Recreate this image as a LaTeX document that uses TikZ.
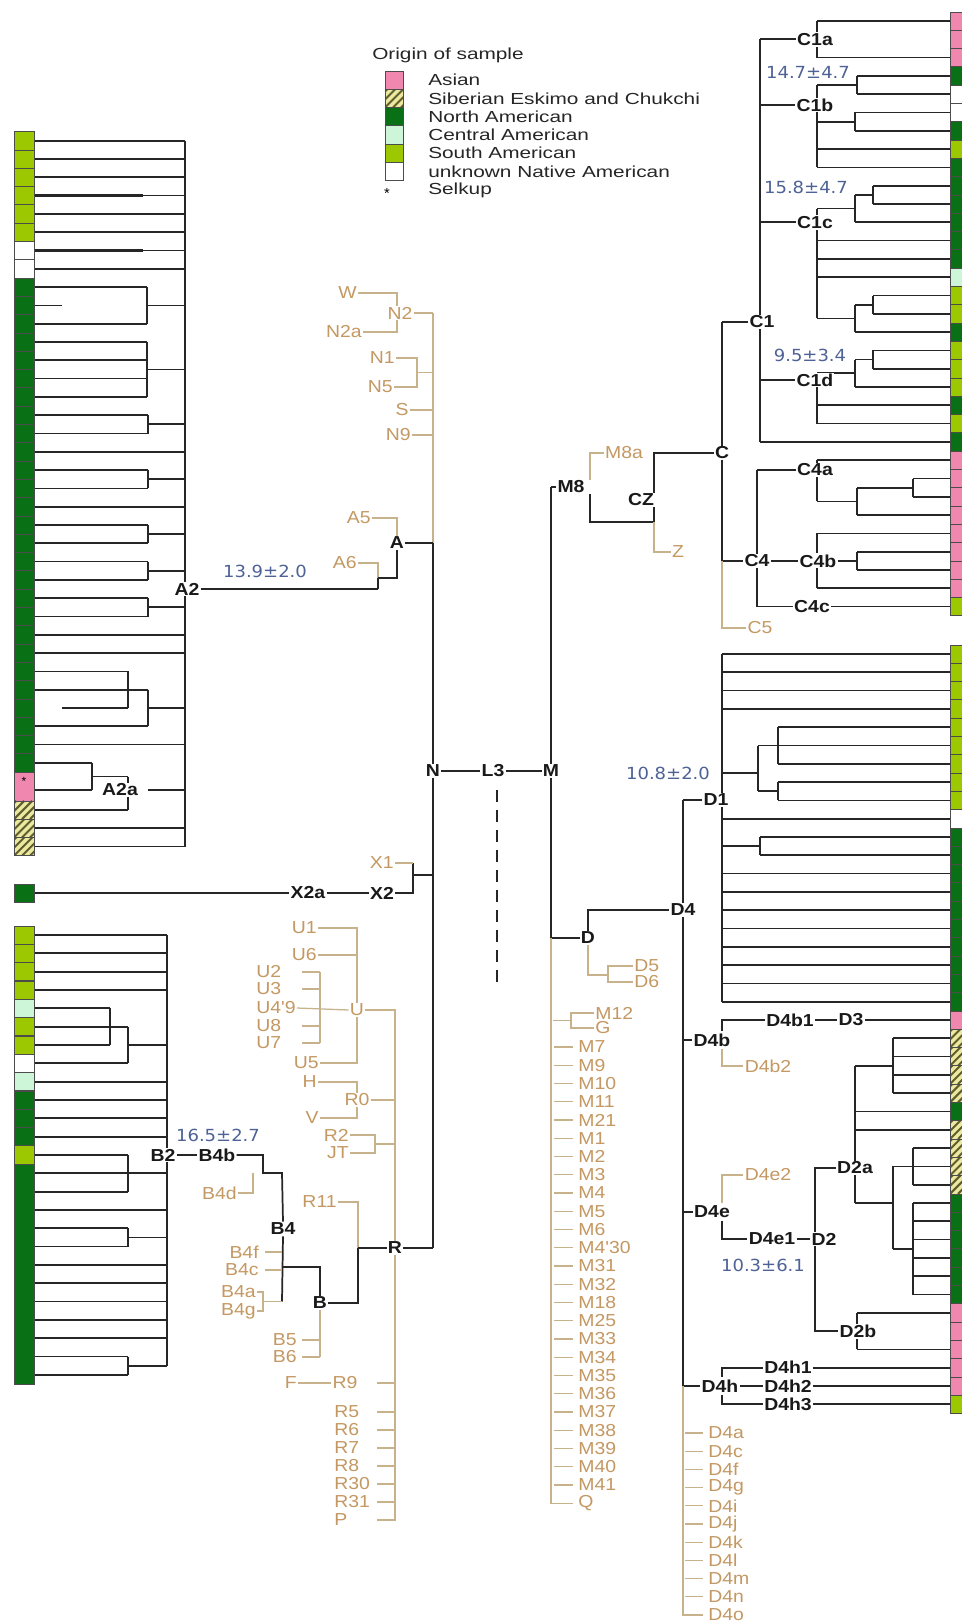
\documentclass[tikz,border=0pt]{standalone}
\usepackage{fontspec}
\setmainfont{Liberation Sans}
\newfontfamily\lab[FakeStretch=1.12]{Liberation Sans}
\newfontfamily\legf[FakeStretch=1.3]{Liberation Sans}
\newfontfamily\numf[FakeStretch=1.08]{DejaVu Sans}
\usetikzlibrary{backgrounds}
\definecolor{asian}{RGB}{240,135,175}
\definecolor{nam}{RGB}{10,112,22}
\definecolor{cam}{RGB}{205,245,215}
\definecolor{sam}{RGB}{155,200,0}
\definecolor{hbg}{RGB}{236,232,160}
\definecolor{hln}{RGB}{95,95,45}
\definecolor{tanT}{RGB}{196,152,98}
\definecolor{tanL}{RGB}{200,178,140}
\definecolor{numc}{RGB}{78,98,150}
\newcommand{\rowA}[1]{(140.7+18.3*(#1))}
\newcommand{\rowB}[1]{(935+18.33*(#1))}
\newcommand{\rowC}[1]{(21+18.3*(#1))}
\newcommand{\rowD}[1]{(654+18.3*(#1))}
\newcommand{\HL}[4][br]{\draw[#1] (#2,{#4}) -- (#3,{#4});}
\newcommand{\VL}[4][br]{\draw[#1] (#2,{#3}) -- (#2,{#4});}
\newcommand{\CB}[4]{\filldraw[fill=#4,draw=black!70,line width=0.5pt] (#1,{#2-9.15}) rectangle (#3,{#2+9.15});}
\newcommand{\HB}[3]{%
 \begin{scope}
  \clip (#1,{#2-9.15}) rectangle (#3,{#2+9.15});
  \fill[hbg] (#1,{#2-9.15}) rectangle (#3,{#2+9.15});
  \foreach \hh in {-16,-8,0,8,16,24} {\draw[hln,line width=1.5pt] ({#1+\hh},{#2+9.15}) -- ({#1+\hh+18.3},{#2-9.15});}
 \end{scope}
 \draw[black!70,line width=0.5pt] (#1,{#2-9.15}) rectangle (#3,{#2+9.15});}
\newcommand{\TRI}[1]{%
 \VL{873}{\rowC{#1}}{\rowC{#1+1}} \HL{873}{950}{\rowC{#1}} \HL{873}{950}{\rowC{#1+1}}
 \HL{855}{873}{\rowC{#1+0.5}} \VL{855}{\rowC{#1+0.5}}{\rowC{#1+2}} \HL{855}{950}{\rowC{#1+2}}
 \HL{817}{855}{\rowC{#1+1.25}}}
\begin{document}
\begin{tikzpicture}[x=0.75pt,y=-0.75pt,
  br/.style={black!85,line width=1.3pt},
  bt/.style={black!85,line width=1.8pt},
  tn/.style={tanL,line width=0.95pt},
  bl/.style={font=\lab\bfseries\fontsize{13}{13}\selectfont,inner sep=0.8pt,fill=white,text=black!90},
  tl/.style={font=\lab\fontsize{13}{13}\selectfont,inner sep=0.8pt,text=tanT},
  nl/.style={font=\numf\fontsize{12.5}{12.5}\selectfont,inner sep=0pt,text=numc},
  lg/.style={font=\legf\fontsize{12}{12}\selectfont,inner sep=0pt,anchor=west,text=black!85}]
\useasboundingbox (0,0) rectangle (961,1623);
% ---------------- legend
\node[lg] (lgh) at (372,55) {Origin of sample};
\CB{385}{80}{403}{asian}
\HB{385}{98.3}{403}
\CB{385}{116.6}{403}{nam}
\CB{385}{134.9}{403}{cam}
\CB{385}{153.2}{403}{sam}
\CB{385}{171.5}{403}{white}
\node[lg] (lg1) at (428,80) {Asian};
\node[lg] (lg2) at (428,98.3) {Siberian Eskimo and Chukchi};
\node[lg] (lg3) at (428,116.6) {North American};
\node[lg] (lg4) at (428,134.9) {Central American};
\node[lg] (lg5) at (428,153.2) {South American};
\node[lg] (lg6) at (428,171.5) {unknown Native American};
\node[lg] (lg7) at (428,190) {Selkup};
\node[font=\fontsize{11}{11}\selectfont,inner sep=0pt] (lgs) at (387,193) {*};
% ---------------- left columns
\foreach \kk in {0,...,5} {\CB{14}{\rowA{\kk}}{34}{sam}}
\foreach \kk in {6,7} {\CB{14}{\rowA{\kk}}{34}{white}}
\foreach \kk in {8,...,34} {\CB{14}{\rowA{\kk}}{34}{nam}}
\filldraw[fill=asian,draw=black!70,line width=0.5pt] (14,772) rectangle (34,801);
\node[inner sep=0pt,font=\fontsize{9}{9}\selectfont] (selk) at (24,781) {*};
\HB{14}{810}{34}
\HB{14}{828.3}{34}
\HB{14}{846.6}{34}
\CB{14}{893}{34}{nam}
\foreach \kk/\colr in {0/sam,1/sam,2/sam,3/sam,4/cam,5/sam,6/sam,7/white,8/cam,9/nam,10/nam,11/nam,12/sam} {\CB{14}{\rowB{\kk}}{34}{\colr}}
\filldraw[fill=nam,draw=black!70,line width=0.5pt] (14,{\rowB{13}-9.165}) rectangle (34,{\rowB{24}+9.165});
% ---------------- right columns
\foreach \kk/\colr in {0/asian,1/asian,2/asian,3/nam,4/white,5/white,6/nam,7/sam,8/nam,9/nam,10/nam,11/nam,12/nam,13/nam,14/cam,15/sam,16/sam,17/nam,18/sam,19/sam,20/sam,21/nam,22/sam,23/nam,24/asian,25/asian,26/asian,27/asian,28/asian,29/asian,30/asian,31/asian,32/sam} {\CB{950}{\rowC{\kk}}{972}{\colr}}
\foreach \kk/\colr in {0/sam,1/sam,2/sam,3/sam,4/sam,5/sam,6/sam,7/sam,8/sam,9/white,10/nam,11/nam,12/nam,13/nam,14/nam,15/nam,16/nam,17/nam,18/nam,19/nam,20/asian,25/nam,30/nam,31/nam,32/nam,33/nam,34/nam,35/nam,36/asian,37/asian,38/asian,39/asian,40/asian,41/sam} {\CB{950}{\rowD{\kk}}{972}{\colr}}
\foreach \kk in {21,22,23,24,26,27,28,29} {\HB{950}{\rowD{\kk}}{972}}
% ---------------- black labels
\node[bl] (A2) at (187,589) {A2};
\node[bl] (A2a) at (120,790) {A2a};
\node[bl] (A) at (397,543) {A};
\node[bl] (N) at (433,771) {N};
\node[bl] (L3) at (493,771) {L3};
\node[bl] (M) at (551,771) {M};
\node[bl] (X2) at (382,893) {X2};
\node[bl] (X2a) at (308,893) {X2a};
\node[bl] (R) at (395,1248) {R};
\node[bl] (B) at (320,1303) {B};
\node[bl] (B4) at (283,1229) {B4};
\node[bl] (B2) at (163,1155) {B2};
\node[bl] (B4b) at (217,1155) {B4b};
\node[bl] (M8) at (571,487) {M8};
\node[bl] (CZ) at (641,500) {CZ};
\node[bl] (C) at (722,453) {C};
\node[bl] (C1) at (762,322) {C1};
\node[bl] (C1a) at (815,{\rowC{1}}) {C1a};
\node[bl] (C1b) at (815,105) {C1b};
\node[bl] (C1c) at (815,{\rowC{11}}) {C1c};
\node[bl] (C1d) at (815,380) {C1d};
\node[bl] (C4a) at (815,470) {C4a};
\node[bl] (C4) at (757,{\rowC{29.5}}) {C4};
\node[bl] (C4b) at (818,{\rowC{29.5}}) {C4b};
\node[bl] (C4c) at (812,{\rowC{32}}) {C4c};
\node[bl] (D) at (588,938) {D};
\node[bl] (D4) at (683,910) {D4};
\node[bl] (D1) at (716,800) {D1};
\node[bl] (D4b) at (712,1040) {D4b};
\node[bl] (D4b1) at (790,{\rowD{20}}) {D4b1};
\node[bl] (D3) at (851,{\rowD{20}}) {D3};
\node[bl] (D4e) at (712,1212) {D4e};
\node[bl] (D4e1) at (772,1239) {D4e1};
\node[bl] (D2) at (824,1239) {D2};
\node[bl] (D2a) at (855,1168) {D2a};
\node[bl] (D2b) at (858,{\rowD{37}}) {D2b};
\node[bl] (D4h) at (720,{\rowD{40}}) {D4h};
\node[bl] (D4h1) at (788,{\rowD{39}}) {D4h1};
\node[bl] (D4h2) at (788,{\rowD{40}}) {D4h2};
\node[bl] (D4h3) at (788,{\rowD{41}}) {D4h3};
% ---------------- tan labels
\node[tl,anchor=east] (W) at (358,293) {W};
\node[tl,fill=white] (N2) at (400,313) {N2};
\node[tl,anchor=east] (N2a) at (363,332) {N2a};
\node[tl,anchor=east] (N1) at (396,358) {N1};
\node[tl,anchor=east] (N5) at (394,387) {N5};
\node[tl,anchor=east] (S) at (410,410) {S};
\node[tl,anchor=east] (N9) at (412,435) {N9};
\node[tl,anchor=east] (A5) at (372,518) {A5};
\node[tl,anchor=east] (A6) at (358,563) {A6};
\node[tl,anchor=east] (X1) at (395,863) {X1};
\node[tl,anchor=east] (U1) at (318,928) {U1};
\node[tl,anchor=east] (U6) at (318,955) {U6};
\node[tl,anchor=west] (U2) at (255,972) {U2};
\node[tl,anchor=west] (U3) at (255,989) {U3};
\node[tl,anchor=west] (U49) at (255,1008) {U4'9};
\node[tl,anchor=west] (U8) at (255,1026) {U8};
\node[tl,anchor=west] (U7) at (255,1043) {U7};
\node[tl,fill=white] (U) at (357,1010) {U};
\node[tl,anchor=east] (U5) at (320,1063) {U5};
\node[tl,anchor=east] (H) at (318,1082) {H};
\node[tl,fill=white] (R0) at (357,1100) {R0};
\node[tl,anchor=east] (V) at (320,1118) {V};
\node[tl,anchor=east] (R2) at (350,1135) {R2};
\node[tl,anchor=east] (JT) at (350,1153) {JT};
\node[tl,anchor=east] (R11) at (338,1202) {R11};
\node[tl,anchor=east] (B4d) at (238,1193) {B4d};
\node[tl,anchor=east] (B4f) at (260,1252) {B4f};
\node[tl,anchor=east] (B4c) at (260,1270) {B4c};
\node[tl,anchor=east] (B4a) at (257,1292) {B4a};
\node[tl,anchor=east] (B4g) at (257,1311) {B4g};
\node[tl,anchor=east] (B5) at (298,1340) {B5};
\node[tl,anchor=east] (B6) at (298,1357) {B6};
\node[tl,anchor=east] (F) at (298,1383) {F};
\node[tl] (R9) at (345,1383) {R9};
\foreach \kk/\txt in {0/R5,1/R6,2/R7,3/R8,4/R30,5/R31,6/P} {\node[tl,anchor=west] (r\kk) at (333,{1412+18*\kk}) {\txt};}
\node[tl] (M8a) at (624,453) {M8a};
\node[tl] (Z) at (678,552) {Z};
\node[tl] (C5) at (760,628) {C5};
\node[tl,anchor=west] (D5) at (633,966) {D5};
\node[tl,anchor=west] (D6) at (633,982) {D6};
\node[tl,anchor=west] (M12) at (594,1013) {M12};
\node[tl,anchor=west] (G) at (594,1028) {G};
\foreach \kk/\txt in {0/M7,1/M9,2/M10,3/M11,4/M21,5/M1,6/M2,7/M3,8/M4,9/M5,10/M6,11/M4'30,12/M31,13/M32,14/M18,15/M25,16/M33,17/M34,18/M35,19/M36,20/M37,21/M38,22/M39,23/M40,24/M41,25/Q} {\node[tl,anchor=west] (m\kk) at (577,{1047+18.25*\kk}) {\txt};}
\node[tl] (D4b2) at (768,1066) {D4b2};
\node[tl] (D4e2) at (768,1175) {D4e2};
\foreach \kk/\txt in {0/D4a,1/D4c,2/D4f,3/D4g,4/D4i,5/D4j,6/D4k,7/D4l,8/D4m,9/D4n,10/D4o} {\node[tl,anchor=west] (dl\kk) at (707,{1433+18.2*\kk}) {\txt};}
% ---------------- numbers
\node[nl] (n1) at (265,571) {13.9±2.0};
\node[nl] (n2) at (218,1135) {16.5±2.7};
\node[nl] (n3) at (668,773) {10.8±2.0};
\node[nl] (n4) at (763,1265) {10.3±6.1};
\node[nl] (n5) at (808,72) {14.7±4.7};
\node[nl] (n6) at (806,187) {15.8±4.7};
\node[nl] (n7) at (810,355) {9.5±3.4};
% ================= connectors
\begin{pgfonlayer}{background}
\fill[white] (0,0) rectangle (961,1623);
% ---- A2 tree
\foreach \kk in {0,1,2,4,5,7,17,20,27,28,33} {\HL{34}{185}{\rowA{\kk}}}
\foreach \kk in {3,6} {\draw[br,line width=2.3pt] (34,{\rowA{\kk}}) -- (143,{\rowA{\kk}}); \HL{143}{185}{\rowA{\kk}}}
\HL{34}{147}{\rowA{8}} \HL{34}{62}{\rowA{9}} \HL{34}{147}{\rowA{10}}
\VL{147}{\rowA{8}}{\rowA{10}} \HL{147}{185}{\rowA{9}}
\foreach \kk in {11,...,14} {\HL{34}{147}{\rowA{\kk}}}
\VL{147}{\rowA{11}}{\rowA{14}} \HL{147}{185}{\rowA{12.5}}
\foreach \kk in {15,18,21,23,25} {\HL{34}{148}{\rowA{\kk}} \HL{34}{148}{\rowA{\kk+1}} \VL{148}{\rowA{\kk}}{\rowA{\kk+1}} \HL{148}{185}{\rowA{\kk+0.5}}}
\HL{34}{128}{\rowA{29}} \HL{34}{148}{\rowA{30}} \HL{62}{128}{\rowA{31}} \HL{34}{148}{\rowA{32}}
\VL{128}{\rowA{29}}{\rowA{31}} \VL{148}{\rowA{30}}{\rowA{32}} \HL{148}{185}{\rowA{31}}
\HL{34}{92}{\rowA{34}} \HL{34}{92}{790} \VL{92}{\rowA{34}}{790}
\HL{92}{128}{776.5} \VL{128}{776.5}{810} \HL{34}{128}{810}
\HL{148}{185}{790}
\HL{34}{185}{828.3} \HL{34}{185}{846.6}
\VL{185}{\rowA{0}}{846.6}
\draw[br] (A2.east) -- (378,589);
% ---- B tree
\foreach \kk in {0,1,2,3,8,9,10,11,13,15,18,19,20,21,22} {\HL{34}{167}{\rowB{\kk}}}
\HL{34}{110}{\rowB{4}} \HL{34}{128}{\rowB{5}} \HL{34}{110}{\rowB{6}} \HL{34}{128}{\rowB{7}}
\VL{110}{\rowB{4}}{\rowB{6}} \VL{128}{\rowB{5}}{\rowB{7}} \HL{128}{167}{\rowB{6}}
\HL{34}{128}{\rowB{12}} \HL{34}{128}{\rowB{14}} \VL{128}{\rowB{12}}{\rowB{14}}
\foreach \kk in {16,23} {\HL{34}{128}{\rowB{\kk}} \HL{34}{128}{\rowB{\kk+1}} \VL{128}{\rowB{\kk}}{\rowB{\kk+1}} \HL{128}{167}{\rowB{\kk+0.5}}}
\VL{167}{\rowB{0}}{\rowB{23.5}}
\draw[br] (B2.east) -- (B4b.west);
% ---- X
\draw[br] (34,893) -- (X2a.west);
\draw[br] (X2a.east) -- (X2.west);
\draw[br] (X2.east) -- (413,893) -- (413,863);
\draw[br] (413,875) -- (433,875);
\draw[tn] (X1.east) -- (413,863);
% ---- N column
\draw[tn] (W.east) -- (397,293) -- (397,332) -- (N2a.east);
\draw[tn] (N2.east) -- (433,313);
\draw[tn] (N1.east) -- (417,358) -- (417,387) -- (N5.east);
\draw[tn] (417,372.5) -- (433,372.5);
\draw[tn] (S.east) -- (433,410);
\draw[tn] (N9.east) -- (433,435);
\draw[tn] (433,313) -- (433,543);
\draw[tn] (A5.east) -- (397,518) -- (A.north);
\draw[tn] (A6.east) -- (378,563) -- (378,578);
\draw[br] (378,578) -- (378,589);
\draw[br] (378,578) -- (397,578) -- (A.south);
\draw[br] (A.east) -- (433,543);
\draw[bt] (433,543) -- (433,1248);
\draw[br] (N.east) -- (L3.west);
\draw[br] (L3.east) -- (M.west);
\draw[br,dash pattern=on 9pt off 6pt] (497,790) -- (497,984);
% ---- U / R
\draw[tn] (U1.east) -- (357,928) -- (357,1063) -- (U5.east);
\draw[tn] (U6.east) -- (357,955);
\foreach \yy in {972,989,1026,1043} {\draw[tn] (302,\yy) -- (320,\yy);}
\draw[tn] (320,972) -- (320,1043);
\draw[tn] (U49.east) -- (U.west);
\draw[tn] (U.east) -- (395,1010) -- (395,1520) -- (377,1520);
\draw[tn] (H.east) -- (357,1082) -- (357,1118) -- (V.east);
\draw[tn] (R0.east) -- (395,1100);
\draw[tn] (R2.east) -- (375,1135) -- (375,1153) -- (JT.east);
\draw[tn] (375,1144) -- (395,1144);
\draw[tn] (R11.east) -- (358,1202) -- (358,1248);
\draw[br] (358,1248) -- (R.west);
\draw[br] (R.east) -- (433,1248);
\draw[br] (358,1248) -- (358,1303) -- (B.east);
\draw[br] (B4b.east) -- (263,1155) -- (263,1173) -- (282,1173) -- (B4.north);
\draw[br] (B4.south) -- (282,1301.5);
\draw[br] (282,1267) -- (320,1267) -- (B.north);
\draw[tn] (B4d.east) -- (253,1193) -- (253,1173);
\draw[tn] (265,1252) -- (282,1252);
\draw[tn] (265,1270) -- (282,1270);
\draw[tn] (B4a.east) -- (263,1292) -- (263,1311) -- (B4g.east);
\draw[tn] (263,1301.5) -- (282,1301.5);
\draw[tn] (B.south) -- (320,1357);
\draw[tn] (302,1340) -- (320,1340);
\draw[tn] (302,1357) -- (320,1357);
\draw[tn] (F.east) -- (R9.west);
\draw[tn] (377,1383) -- (395,1383);
\foreach \kk in {0,...,5} {\draw[tn] (377,{1412+18*\kk}) -- (395,{1412+18*\kk});}
% ---- M
\draw[br] (551,487) -- (551,938);
\draw[br] (551,487) -- (M8.west);
\draw[br] (551,938) -- (D.west);
\draw[tn] (551,938) -- (551,1503.25) -- (573,1503.25);
\draw[tn] (553,1020.5) -- (571,1020.5);
\draw[tn] (M12.west) -- (571,1013) -- (571,1028) -- (G.west);
\foreach \kk in {0,...,24} {\draw[tn] (554,{1047+18.25*\kk}) -- (573,{1047+18.25*\kk});}
\draw[tn] (590,480) -- (590,453) -- (M8a.west);
\draw[br] (590,494) -- (590,522) -- (654,522);
\draw[br] (654,522) -- (654,453) -- (C.west);
\draw[tn] (654,522) -- (654,552) -- (Z.west);
% ---- C tree
\HL{817}{950}{\rowC{0}} \HL{817}{950}{\rowC{2}} \VL{817}{\rowC{0}}{\rowC{2}}
\draw[br] (760,{\rowC{1}}) -- (C1a.west);
\HL{817}{857}{\rowC{3.5}} \VL{857}{\rowC{3}}{\rowC{4}} \HL{857}{950}{\rowC{3}} \HL{857}{950}{\rowC{4}}
\HL{817}{855}{\rowC{5.5}} \VL{855}{\rowC{5}}{\rowC{6}} \HL{855}{950}{\rowC{5}} \HL{855}{950}{\rowC{6}}
\HL{817}{950}{\rowC{7}} \HL{817}{950}{\rowC{8}}
\VL{817}{\rowC{3.5}}{\rowC{8}}
\draw[br] (760,105) -- (C1b.west);
\TRI{9} \TRI{15} \TRI{18}
\foreach \kk in {12,13,14,21,22} {\HL{817}{950}{\rowC{\kk}}}
\VL{817}{\rowC{10.25}}{\rowC{16.25}} \VL{817}{\rowC{19.25}}{\rowC{22}}
\draw[br] (760,{\rowC{11}}) -- (C1c.west);
\draw[br] (760,380) -- (C1d.west);
\HL{760}{950}{\rowC{23}} \VL{760}{\rowC{1}}{\rowC{23}}
\draw[br] (722,322) -- (C1.west);
\HL{817}{950}{\rowC{24}} \VL{817}{\rowC{24}}{\rowC{26.25}}
\VL{913}{\rowC{25}}{\rowC{26}} \HL{913}{950}{\rowC{25}} \HL{913}{950}{\rowC{26}}
\HL{857}{913}{\rowC{25.5}} \VL{857}{\rowC{25.5}}{\rowC{27}} \HL{857}{950}{\rowC{27}} \HL{817}{857}{\rowC{26.25}}
\VL{817}{\rowC{28}}{\rowC{31}} \HL{817}{950}{\rowC{28}} \HL{817}{950}{\rowC{31}}
\VL{857}{\rowC{29}}{\rowC{30}} \HL{857}{950}{\rowC{29}} \HL{857}{950}{\rowC{30}}
\draw[br] (C4b.east) -- (857,{\rowC{29.5}});
\draw[br] (C4c.east) -- (950,{\rowC{32}});
\VL{757}{470}{\rowC{32}}
\draw[br] (757,470) -- (C4a.west);
\draw[br] (757,{\rowC{32}}) -- (C4c.west);
\draw[br] (C4.east) -- (C4b.west);
\draw[br] (722,322) -- (722,{\rowC{29.5}}) -- (C4.west);
\draw[tn] (722,{\rowC{29.5}}) -- (722,628) -- (C5.west);
% ---- D
\draw[br] (D.north) -- (588,910) -- (D4.west);
\draw[tn] (D.south) -- (588,975) -- (608,975);
\draw[tn] (D5.west) -- (608,966) -- (608,982) -- (D6.west);
\draw[br] (683,800) -- (683,{\rowD{40}});
\draw[br] (683,800) -- (D1.west);
\draw[br] (683,1040) -- (D4b.west);
\draw[br] (683,1212) -- (D4e.west);
\draw[br] (683,{\rowD{40}}) -- (D4h.west);
\draw[tn] (683,{\rowD{40}}) -- (683,1615) -- (703,1615);
\foreach \kk in {0,...,9} {\draw[tn] (685,{1433+18.2*\kk}) -- (703,{1433+18.2*\kk});}
% D1
\foreach \kk in {0,1,2,3,9,12,13,14,15,16,17,18,19} {\HL{722}{950}{\rowD{\kk}}}
\foreach \kk in {4,...,8} {\HL{778}{950}{\rowD{\kk}}}
\VL{778}{\rowD{4}}{\rowD{6}} \VL{778}{\rowD{7}}{\rowD{8}}
\VL{758}{\rowD{5}}{\rowD{7.5}} \HL{758}{778}{\rowD{5}} \HL{758}{778}{\rowD{7.5}} \HL{722}{758}{\rowD{6.5}}
\HL{760}{950}{\rowD{10}} \HL{760}{950}{\rowD{11}} \VL{760}{\rowD{10}}{\rowD{11}} \HL{722}{760}{\rowD{10.5}}
\VL{722}{\rowD{0}}{\rowD{19}}
% D4b
\draw[br] (722,1031) -- (722,{\rowD{20}}) -- (D4b1.west);
\draw[br] (D4b1.east) -- (D3.west);
\draw[br] (D3.east) -- (950,{\rowD{20}});
\draw[tn] (722,1049) -- (722,1066) -- (D4b2.west);
% D4e
\draw[tn] (722,1203) -- (722,1175) -- (D4e2.west);
\draw[br] (722,1221) -- (722,1239) -- (D4e1.west);
\draw[br] (D4e1.east) -- (D2.west);
\draw[br] (D2a.west) -- (815,1168) -- (815,{\rowD{37}}) -- (D2b.west);
\VL{855}{\rowD{22.5}}{\rowD{30}}
\HL{855}{893}{\rowD{22.5}} \VL{893}{\rowD{21}}{\rowD{24}}
\foreach \kk in {21,...,24} {\HL{893}{950}{\rowD{\kk}}}
\HL{855}{950}{\rowD{25}} \HL{855}{950}{\rowD{26}}
\HL{855}{893}{\rowD{30}} \VL{893}{\rowD{28}}{\rowD{32.5}}
\HL{893}{913}{\rowD{28}} \VL{913}{\rowD{27}}{\rowD{29}}
\foreach \kk in {27,28,29} {\HL{913}{950}{\rowD{\kk}}}
\HL{893}{913}{\rowD{32.5}} \VL{913}{\rowD{30}}{\rowD{35}}
\foreach \kk in {30,...,35} {\HL{913}{950}{\rowD{\kk}}}
\VL{857}{\rowD{36}}{\rowD{38}} \HL{857}{950}{\rowD{36}} \HL{857}{950}{\rowD{38}}
% D4h
\draw[br] (722,{\rowD{39.5}}) -- (722,{\rowD{39}}) -- (D4h1.west);
\draw[br] (D4h.east) -- (D4h2.west);
\draw[br] (722,{\rowD{40.5}}) -- (722,{\rowD{41}}) -- (D4h3.west);
\draw[br] (D4h1.east) -- (950,{\rowD{39}});
\draw[br] (D4h2.east) -- (950,{\rowD{40}});
\draw[br] (D4h3.east) -- (950,{\rowD{41}});
\end{pgfonlayer}
\end{tikzpicture}
\end{document}
